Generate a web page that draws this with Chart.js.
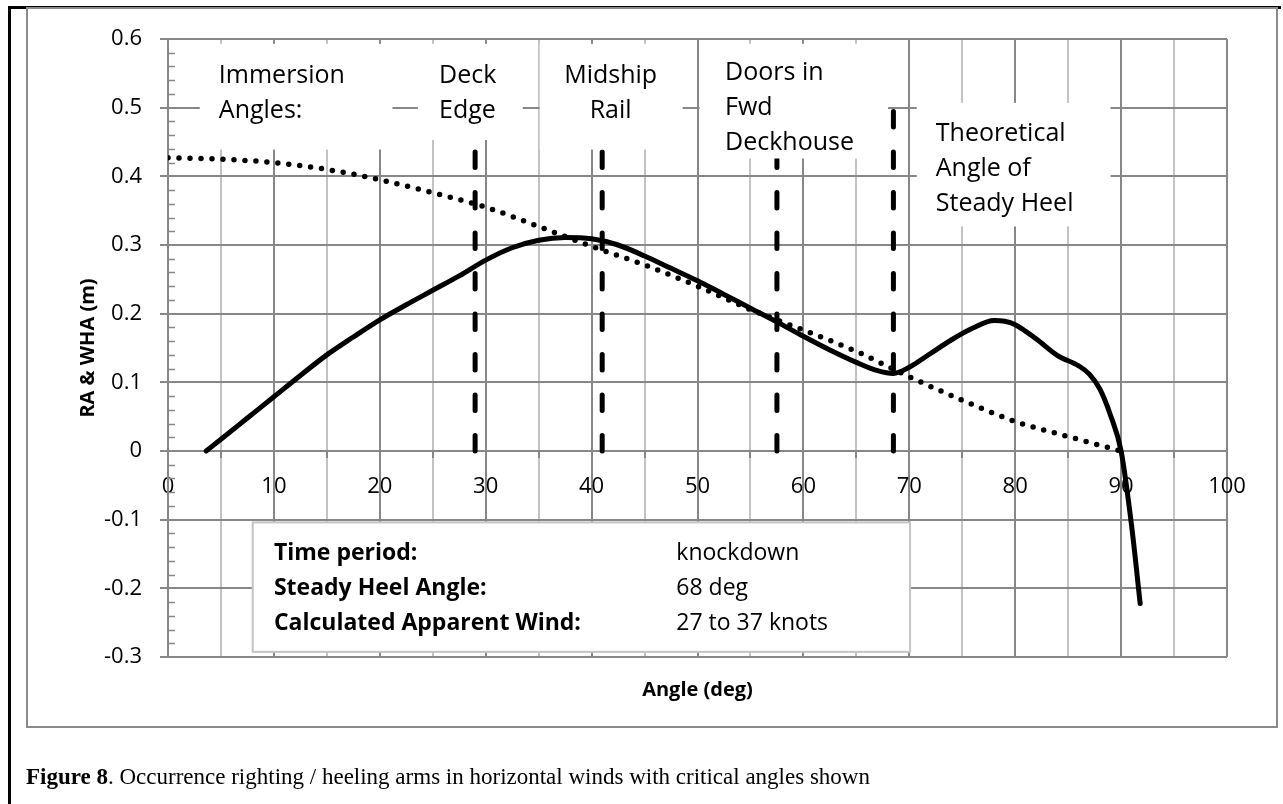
<!DOCTYPE html>
<html>
<head>
<meta charset="utf-8">
<title>Righting / heeling arms</title>
<script src="https://cdn.jsdelivr.net/npm/chart.js@4.4.1/dist/chart.umd.min.js"></script>
<style>
  html, body { margin: 0; padding: 0; background: #fff; }
  body { width: 1283px; height: 804px; position: relative; overflow: hidden; }
  #outer { position: absolute; left: 8px; top: 6px; width: 1270px; height: 800px;
           border-left: 3px solid #000; border-top: 3px solid #000; }
  #frame { position: absolute; left: 26px; top: 7px; width: 1248px; height: 717px;
           border: 2px solid #8a8a8a; }
  #chart { position: absolute; left: 0; top: 0; }
  #caption { position: absolute; left: 26px; top: 765px; white-space: nowrap;
             font: 23px/23px "Liberation Serif", serif; color: #000; }
</style>
</head>
<body>
<div id="outer"></div>
<div id="frame"></div>
<canvas id="chart" width="1283" height="804"></canvas>
<div id="caption"><b>Figure 8</b>. Occurrence righting / heeling arms in horizontal winds with critical angles shown</div>
<script>
// righting arm (solid)
const raAngles = [3.6, 5, 7.5, 10, 12.5, 15, 17.5, 20, 22.5, 25, 27.5, 30, 32.5, 35, 37.5, 40, 42.5, 45, 47.5, 50,
  52.5, 55, 57.5, 60, 62.5, 65, 67, 68.5, 70, 72, 74, 76, 78, 79, 80, 82, 84, 86, 87, 88, 89, 90, 91, 91.8];
const raValues = [0, 0.017, 0.048, 0.079, 0.110, 0.140, 0.166, 0.191, 0.213, 0.234, 0.255, 0.278, 0.296, 0.307, 0.311, 0.309, 0.300, 0.284, 0.266, 0.248,
  0.228, 0.208, 0.188, 0.167, 0.147, 0.129, 0.117, 0.113, 0.122, 0.142, 0.162, 0.179, 0.190, 0.189, 0.184, 0.163, 0.139, 0.124, 0.112, 0.090, 0.052, 0, -0.11, -0.222];

// wind heeling arm (dotted)
const whaAngles = [0, 5, 10, 15, 20, 25, 30, 35, 40, 45, 50, 55, 60, 65, 70, 75, 80, 85, 90];
const whaValues = [0.427, 0.425, 0.420, 0.410, 0.395, 0.376, 0.355, 0.327, 0.298, 0.271, 0.240, 0.206, 0.176, 0.145, 0.108, 0.074, 0.043, 0.021, 0];

// critical angles (dashed verticals)
const markerAngles = [29, 41, 57.5, 68.5];
const markerTop = 0.5;

const noteTexts = [
  ['Immersion', 'Angles:'],
  ['Deck', 'Edge'],
  ['Midship', 'Rail'],
  ['Doors in', 'Fwd', 'Deckhouse'],
  ['Theoretical', 'Angle of', 'Steady Heel']
];

const infoLabels = ['Time period:', 'Steady Heel Angle:', 'Calculated Apparent Wind:'];
const infoValues = ['knockdown', '68 deg', '27 to 37 knots'];

// layout of the text boxes, in axis units
const noteBoxes = [
  { x0: 3.0, x1: 21.2, y0: 0.439, y1: 0.593, tx: 4.8, ty: 0.536, align: 'left' },
  { x0: 23.6, x1: 33.5, y0: 0.453, y1: 0.593, tx: 25.6, ty: 0.536, align: 'left' },
  { x0: 35.1, x1: 48.6, y0: 0.439, y1: 0.593, tx: 41.8, ty: 0.536, align: 'center' },
  { x0: 50.2, x1: 68.0, y0: 0.426, y1: 0.593, tx: 52.6, ty: 0.541, align: 'left' },
  { x0: 70.7, x1: 89.0, y0: 0.327, y1: 0.507, tx: 72.5, ty: 0.451, align: 'left' }
];
const infoBox = { x0: 8.0, x1: 70.07, y0: -0.2925, y1: -0.104, labelX: 10.0, valueX: 48.0, rows: [-0.159, -0.210, -0.261] };

const FONT = '"Open Sans", sans-serif';
const MAJOR = '#878787';
const MINOR = '#c2c2c2';

const pts = (xs, ys) => xs.map((v, i) => ({ x: v, y: ys[i] }));

const datasets = [
  {
    data: pts(raAngles, raValues),
    borderColor: '#000', borderWidth: 5, pointRadius: 0,
    cubicInterpolationMode: 'monotone', borderCapStyle: 'round', showLine: true
  },
  {
    data: pts(whaAngles, whaValues),
    borderColor: '#000', borderWidth: 5.5, pointRadius: 0,
    cubicInterpolationMode: 'monotone', borderDash: [0, 11], borderCapStyle: 'round', showLine: true
  }
];
markerAngles.forEach(a => {
  datasets.push({
    data: [{ x: a, y: 0 }, { x: a, y: markerTop }],
    borderColor: '#000', borderWidth: 5, pointRadius: 0,
    borderDash: [15.5, 25], borderCapStyle: 'round', showLine: true
  });
});

const notesPlugin = {
  id: 'notes',
  afterDatasetsDraw(chart) {
    const { ctx, scales: { x, y } } = chart;
    ctx.save();

    // minor ticks on the inside of the value axis
    ctx.strokeStyle = MAJOR;
    ctx.lineWidth = 1.5;
    for (let i = -15; i <= 30; i++) {
      if (i % 5 === 0) continue;
      const py = Math.round(y.getPixelForValue(i / 50)) + 0.5;
      ctx.beginPath();
      ctx.moveTo(x.left, py);
      ctx.lineTo(x.left + 7, py);
      ctx.stroke();
    }

    // white text boxes above the curves
    ctx.font = '25px ' + FONT;
    ctx.textBaseline = 'alphabetic';
    noteBoxes.forEach((b, i) => {
      const l = x.getPixelForValue(b.x0), r = x.getPixelForValue(b.x1);
      const t = y.getPixelForValue(b.y1), bt = y.getPixelForValue(b.y0);
      ctx.fillStyle = '#fff';
      ctx.fillRect(l, t, r - l, bt - t);
      ctx.fillStyle = '#000';
      ctx.textAlign = b.align;
      noteTexts[i].forEach((line, j) => {
        ctx.fillText(line, x.getPixelForValue(b.tx), y.getPixelForValue(b.ty) + j * 35);
      });
    });

    // info box
    const l = x.getPixelForValue(infoBox.x0), r = x.getPixelForValue(infoBox.x1);
    const t = y.getPixelForValue(infoBox.y1), bt = y.getPixelForValue(infoBox.y0);
    ctx.fillStyle = '#fff';
    ctx.fillRect(l, t, r - l, bt - t);
    ctx.strokeStyle = '#c4c4c4';
    ctx.lineWidth = 2;
    ctx.strokeRect(l, t, r - l, bt - t);
    ctx.fillStyle = '#000';
    ctx.textAlign = 'left';
    infoBox.rows.forEach((v, i) => {
      const py = y.getPixelForValue(v);
      ctx.font = 'bold 23px ' + FONT;
      ctx.fillText(infoLabels[i], x.getPixelForValue(infoBox.labelX), py);
      ctx.font = '23px ' + FONT;
      ctx.fillText(infoValues[i], x.getPixelForValue(infoBox.valueX), py);
    });
    ctx.restore();
  }
};

new Chart(document.getElementById('chart'), {
  type: 'scatter',
  data: { datasets },
  options: {
    responsive: false,
    animation: false,
    layout: { padding: { left: 0, top: 39, right: 56, bottom: 102 } },
    plugins: {
      legend: { display: false },
      tooltip: { enabled: false },
      title: {
        display: true, text: 'Angle (deg)', position: 'bottom', fullSize: false,
        color: '#000', font: { family: FONT, size: 20, weight: 'bold' },
        padding: { top: 21, bottom: 0 }
      }
    },
    scales: {
      x: {
        type: 'linear', position: { y: 0 }, min: 0, max: 100,
        afterFit(scale) { scale.height = 0; },
        ticks: {
          stepSize: 5, autoSkip: false, maxRotation: 0, padding: 17, color: '#000',
          font: { family: FONT, size: 22 },
          callback: v => (v % 10 === 0 ? String(v) : '')
        },
        grid: {
          color: c => (c.tick && c.tick.value % 10 === 0 ? MAJOR : MINOR),
          tickColor: MAJOR, lineWidth: 2, tickLength: 6
        },
        border: { color: MAJOR, width: 2 }
      },
      y: {
        type: 'linear', min: -0.3, max: 0.6,
        afterFit(scale) { scale.width = 168; },
        ticks: {
          stepSize: 0.1, padding: 18, color: '#000',
          font: { family: FONT, size: 22 },
          callback: v => String(Math.round(v * 10) / 10)
        },
        grid: { color: MAJOR, lineWidth: 2, tickLength: 8 },
        border: { color: MAJOR, width: 2 },
        title: {
          display: true, text: 'RA & WHA (m)', color: '#000',
          font: { family: FONT, size: 20, weight: 'bold' },
          padding: { top: 76, bottom: 0 }
        }
      }
    }
  },
  plugins: [notesPlugin]
});
</script>
</body>
</html>
